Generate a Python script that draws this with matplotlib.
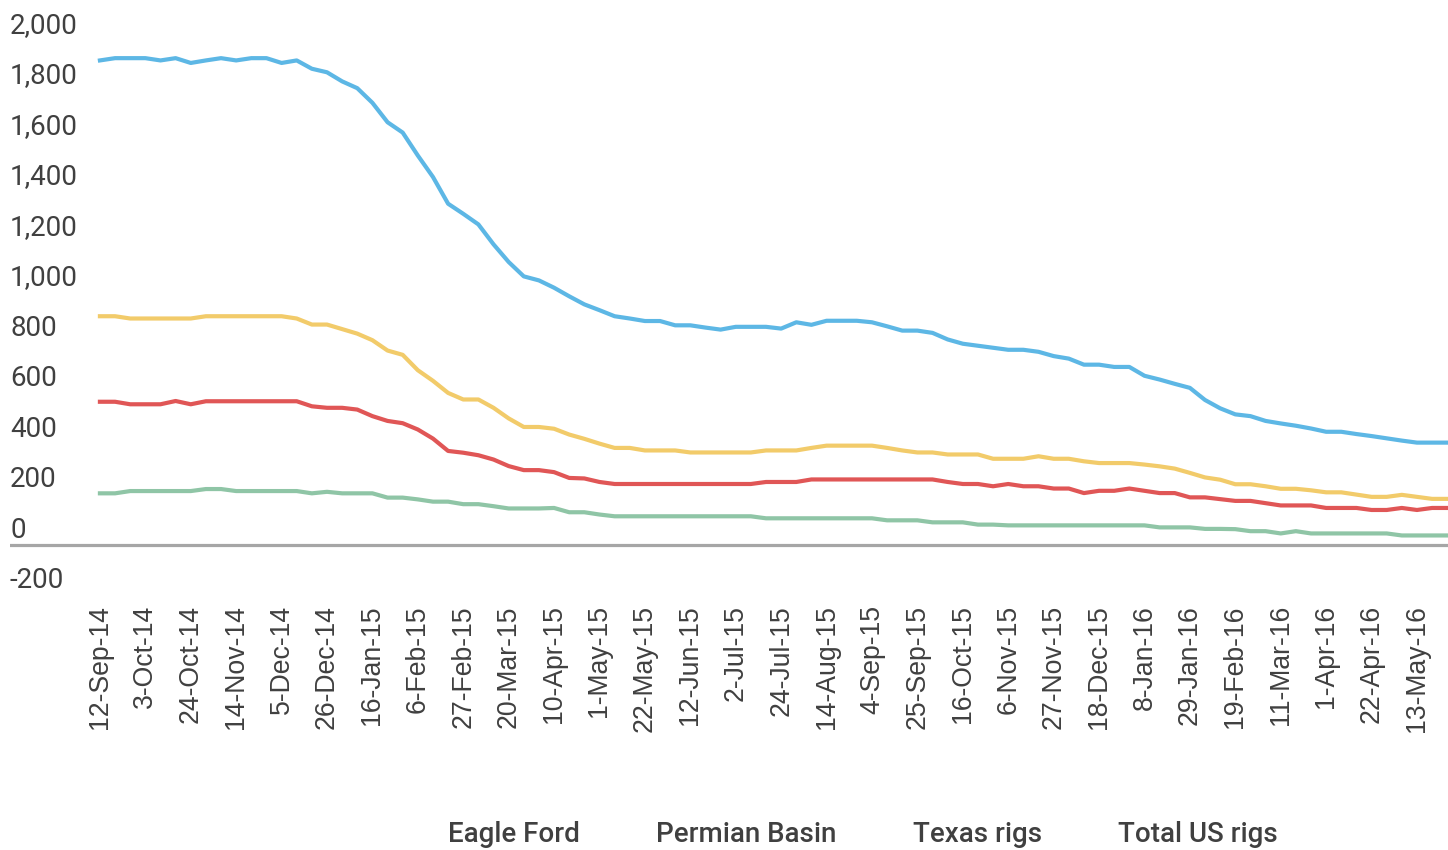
import matplotlib
matplotlib.use('Agg')
import matplotlib.pyplot as plt
from matplotlib.transforms import ScaledTranslation

# weekly rig counts, 12-Sep-14 .. 27-May-16
total_us = [1921, 1930, 1930, 1930, 1921, 1930, 1911, 1921, 1930, 1921,
            1930, 1930, 1911, 1921, 1888, 1874, 1838, 1811, 1753, 1676,
            1635, 1544, 1459, 1353, 1313, 1271, 1192, 1122, 1065, 1049,
            1020, 986, 954, 931, 907, 898, 888, 888, 871, 871,
            862, 854, 865, 865, 865, 858, 883, 873, 889, 889,
            889, 883, 867, 850, 850, 841, 815, 798, 790, 782,
            774, 774, 766, 749, 739, 715, 715, 706, 706, 671,
            656, 639, 623, 575, 542, 518, 511, 492, 482, 473,
            462, 449, 449, 440, 432, 423, 414, 406, 406, 406]
texas = [907, 907, 898, 898, 898, 898, 898, 907, 907, 907,
         907, 907, 907, 898, 874, 874, 856, 838, 812, 771,
         754, 693, 651, 603, 577, 577, 544, 502, 468, 468,
         461, 438, 421, 402, 385, 385, 375, 375, 375, 367,
         367, 367, 367, 367, 375, 375, 375, 385, 394, 394,
         394, 394, 385, 375, 367, 367, 359, 359, 359, 342,
         342, 342, 352, 342, 342, 332, 325, 325, 325, 319,
         312, 303, 286, 268, 259, 241, 241, 233, 223, 223,
         217, 209, 209, 200, 191, 191, 199, 191, 183, 183]
permian = [568, 568, 558, 558, 558, 571, 558, 570, 570, 570,
           570, 570, 570, 570, 550, 544, 544, 537, 511, 492,
           483, 458, 422, 373, 366, 356, 339, 313, 297, 297,
           289, 266, 264, 250, 242, 242, 242, 242, 242, 242,
           242, 242, 242, 242, 250, 250, 250, 260, 260, 260,
           260, 260, 260, 260, 260, 260, 250, 242, 242, 233,
           242, 233, 233, 224, 224, 206, 215, 215, 224, 215,
           206, 206, 189, 189, 182, 175, 175, 166, 157, 157,
           157, 147, 147, 147, 139, 139, 147, 139, 147, 147]
eagle_ford = [205, 205, 214, 214, 214, 214, 214, 222, 222, 214,
              214, 214, 214, 214, 205, 211, 205, 205, 205, 188,
              188, 181, 172, 172, 162, 162, 154, 145, 145, 145,
              147, 130, 130, 121, 114, 114, 114, 114, 114, 114,
              114, 114, 114, 114, 106, 106, 106, 106, 106, 106,
              106, 106, 98, 98, 98, 90, 90, 90, 81, 81,
              78, 78, 78, 78, 78, 78, 78, 78, 78, 78,
              70, 70, 70, 64, 64, 63, 55, 55, 46, 55,
              46, 46, 46, 46, 46, 46, 38, 38, 38, 38]

date_labels = ['12-Sep-14', '3-Oct-14', '24-Oct-14', '14-Nov-14', '5-Dec-14',
               '26-Dec-14', '16-Jan-15', '6-Feb-15', '27-Feb-15', '20-Mar-15',
               '10-Apr-15', '1-May-15', '22-May-15', '12-Jun-15', '2-Jul-15',
               '24-Jul-15', '14-Aug-15', '4-Sep-15', '25-Sep-15', '16-Oct-15',
               '6-Nov-15', '27-Nov-15', '18-Dec-15', '8-Jan-16', '29-Jan-16',
               '19-Feb-16', '11-Mar-16', '1-Apr-16', '22-Apr-16', '13-May-16']

series_names = ['Eagle Ford', 'Permian Basin', 'Texas rigs', 'Total US rigs']
series_colors = ['#8fc5a6', '#e05656', '#f2cb6a', '#5db7e5']

txt_color = '#404040'

fig = plt.figure(figsize=(14.48, 8.5), dpi=100)
ax = fig.add_axes([10 / 1448, 1 - 595.5 / 850, 1438 / 1448, 555 / 850])

x = list(range(len(total_us)))
lines = []
for vals, name, col in zip([eagle_ford, permian, texas, total_us], series_names, series_colors):
    ln, = ax.plot(x, vals, color=col, lw=3.0, label=name, solid_joinstyle='round')
    lines.append(ln)

ax.axhline(0, color='#a6a6a6', lw=2.3, zorder=1)

ax.set_xlim(-5.94, 89.05)
ax.set_ylim(-200, 2000)

for s in ax.spines.values():
    s.set_visible(False)

# y axis: labels left aligned, sitting a bit above their values
yt = list(range(-200, 2001, 200))
ax.set_yticks(yt)
ax.set_yticklabels(['{:,}'.format(v) for v in yt], fontfamily='Roboto', fontsize=20, color=txt_color)
ax.tick_params(axis='y', length=0, pad=0)
for lbl in ax.get_yticklabels():
    lbl.set_horizontalalignment('left')
    lbl.set_transform(lbl.get_transform() + ScaledTranslation(0, 18 / 100, fig.dpi_scale_trans))

ax.set_xticks(list(range(0, 3 * len(date_labels), 3)))
ax.set_xticklabels(date_labels, rotation=90, fontfamily='Liberation Sans', fontsize=19.2, color=txt_color)
ax.tick_params(axis='x', length=0, pad=7)

fig.legend(handles=lines, labels=series_names, loc='center', bbox_to_anchor=(863 / 1448, 1 - 835 / 850),
           ncol=4, frameon=False, handlelength=0, handletextpad=0, columnspacing=2.75,
           prop={'family': 'Roboto', 'size': 20, 'weight': 'medium'}, labelcolor=txt_color)

fig.savefig('out.png', dpi=100)
